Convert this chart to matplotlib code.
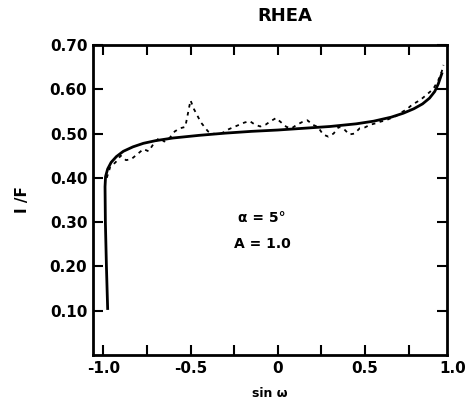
import numpy as np
import matplotlib
matplotlib.use("Agg")
import matplotlib.pyplot as plt

# model curve (solid)
model_x = [-0.975, -0.982, -0.988, -0.99, -0.987, -0.975, -0.955, -0.925, -0.885, -0.83,
           -0.77, -0.7, -0.6, -0.45, -0.3, -0.15, 0.0, 0.15, 0.3, 0.45,
           0.55, 0.65, 0.72, 0.78, 0.83, 0.87, 0.9, 0.92, 0.94]
model_y = [0.105, 0.2, 0.3, 0.38, 0.403, 0.42, 0.435, 0.448, 0.46, 0.47,
           0.478, 0.484, 0.49, 0.496, 0.501, 0.505, 0.508, 0.512, 0.516, 0.522,
           0.528, 0.537, 0.546, 0.556, 0.567, 0.58, 0.595, 0.612, 0.635]

# observed points (dashed)
obs_x = [-0.98, -0.96, -0.93, -0.9, -0.87, -0.84, -0.8, -0.77, -0.74, -0.71,
         -0.68, -0.65, -0.62, -0.59, -0.56, -0.53, -0.5, -0.48, -0.46, -0.44,
         -0.42, -0.4, -0.37, -0.34, -0.31, -0.28, -0.25, -0.22, -0.19, -0.16,
         -0.13, -0.1, -0.07, -0.04, -0.01, 0.02, 0.05, 0.08, 0.11, 0.14,
         0.17, 0.2, 0.23, 0.26, 0.29, 0.32, 0.35, 0.38, 0.41, 0.44,
         0.47, 0.5, 0.53, 0.56, 0.59, 0.62, 0.65, 0.68, 0.71, 0.74,
         0.77, 0.8, 0.83, 0.86, 0.89, 0.92, 0.94, 0.95]
obs_y = [0.40, 0.425, 0.435, 0.45, 0.44, 0.442, 0.455, 0.465, 0.46, 0.478,
         0.49, 0.482, 0.49, 0.505, 0.512, 0.515, 0.575, 0.555, 0.54, 0.525,
         0.515, 0.505, 0.50, 0.498, 0.503, 0.51, 0.515, 0.52, 0.525, 0.528,
         0.52, 0.516, 0.52, 0.528, 0.535, 0.525, 0.515, 0.512, 0.52, 0.526,
         0.53, 0.52, 0.515, 0.498, 0.493, 0.50, 0.515, 0.51, 0.498, 0.50,
         0.512, 0.514, 0.52, 0.523, 0.527, 0.53, 0.535, 0.54, 0.548, 0.555,
         0.565, 0.572, 0.58, 0.59, 0.60, 0.62, 0.64, 0.655]

xticks = [-1.0, -0.75, -0.5, -0.25, 0.0, 0.25, 0.5, 0.75]
xlabels = ["-1.0", "", "-0.5", "", "0", "", "0.5", ""]
yticks = [0.1, 0.2, 0.3, 0.4, 0.5, 0.6, 0.7]
ylabels = ["0.10", "0.20", "0.30", "0.40", "0.50", "0.60", "0.70"]

fig = plt.figure(figsize=(4.76, 4.09), dpi=100)
ax = fig.add_axes([0.195, 0.132, 0.744, 0.758])

ax.plot(obs_x, obs_y, color="black", lw=1.3, ls=(0, (2, 2.5)))
ax.plot(model_x, model_y, color="black", lw=2.0)

ax.set_xlim(-1.06, 0.97)
ax.set_ylim(0, 0.70)
ax.set_xticks(xticks)
ax.set_xticklabels(xlabels, fontsize=11, fontweight="bold")
ax.set_yticks(yticks)
ax.set_yticklabels(ylabels, fontsize=11, fontweight="bold")
ax.tick_params(direction="in", length=7, width=1.5, top=True, right=True, pad=4)
for s in ax.spines.values():
    s.set_linewidth(2)

ax.text(1.0, -0.02, "1.0", transform=ax.get_xaxis_transform(), ha="center",
        va="top", fontsize=11, fontweight="bold", clip_on=False)

fig.text(285 / 476, 1 - 16 / 409, "RHEA", ha="center", va="center",
         fontsize=13, fontweight="bold")
ax.set_xlabel("sin \u03c9", fontsize=9, fontweight="bold", labelpad=8)
ax.set_ylabel("I /F", fontsize=11, fontweight="bold", labelpad=14)

ax.text(-0.09, 0.31, "\u03b1 = 5\u00b0", ha="center", va="center", fontsize=10, fontweight="bold")
ax.text(-0.09, 0.25, "A = 1.0", ha="center", va="center", fontsize=10, fontweight="bold")

fig.savefig("out.png", dpi=100)
